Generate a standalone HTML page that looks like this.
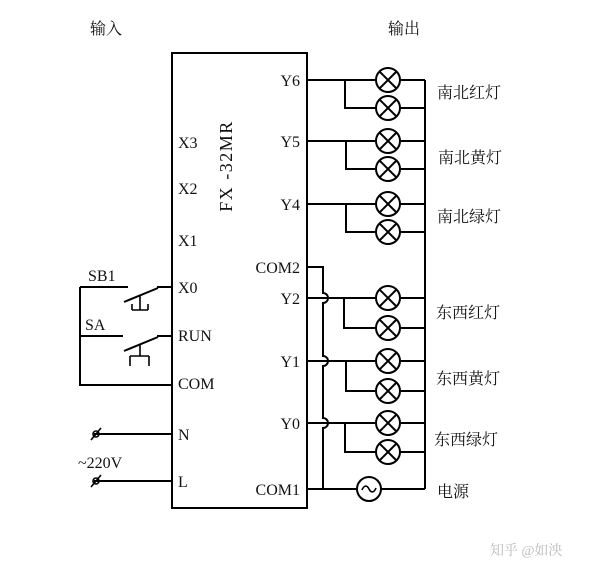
<!DOCTYPE html>
<html><head><meta charset="utf-8"><style>
body{margin:0;background:#fff}
svg text{font-family:"Liberation Serif","Noto Serif CJK SC",serif;fill:#111}
.c{font-family:"Liberation Sans","Noto Sans CJK SC",sans-serif}
</style></head><body>
<svg width="600" height="580" viewBox="0 0 600 580" xmlns="http://www.w3.org/2000/svg">
<defs>
<g id="lamp"><circle r="12" fill="#fff" stroke="#000" stroke-width="2"/><path d="M-8.5,-8.5L8.5,8.5M-8.5,8.5L8.5,-8.5" stroke="#000" stroke-width="2"/></g>
</defs>
<g stroke="#000" stroke-width="2" fill="none">
<rect x="172" y="53" width="135" height="455"/>
<line x1="425" y1="80" x2="425" y2="489"/>
<path d="M307,80H425M345,80V108H425"/>
<path d="M307,141H425M346,141V169H425"/>
<path d="M307,204H425M346,204V232H425"/>
<path d="M307,298H425M344,298V328H425"/>
<path d="M307,361H425M346,361V391H425"/>
<path d="M307,423H425M345,423V452H425"/>
<path d="M307,489H425"/>
<path d="M307,267H323V293A5,5 0 0 1 323,303V356A5,5 0 0 1 323,366V418A5,5 0 0 1 323,428V489"/>
<path d="M80,287H128M157,287H172M80,287V385H172"/>
<path d="M124,302L158,288"/>
<path d="M140,296V310M132,310H148M132,304V310M148,304V310" stroke-width="1.6"/>
<path d="M80,336H123M157,336H172"/>
<path d="M124,351L158,337"/>
<path d="M140,344V356M130,356H149M130,356V366M149,356V366" stroke-width="1.6"/>
<path d="M94,434H172M94,481H172"/>
</g>
<g stroke="#000" stroke-width="1.6" fill="none">
<circle cx="96" cy="434" r="3"/><line x1="91" y1="440" x2="101" y2="428"/>
<circle cx="96" cy="481" r="3"/><line x1="91" y1="487" x2="101" y2="475"/>
</g>
<use href="#lamp" x="388" y="80"/><use href="#lamp" x="388" y="108"/>
<use href="#lamp" x="388" y="141"/><use href="#lamp" x="388" y="169"/>
<use href="#lamp" x="388" y="204"/><use href="#lamp" x="388" y="232"/>
<use href="#lamp" x="388" y="298"/><use href="#lamp" x="388" y="328"/>
<use href="#lamp" x="388" y="361"/><use href="#lamp" x="388" y="391"/>
<use href="#lamp" x="388" y="423"/><use href="#lamp" x="388" y="452"/>
<circle cx="369" cy="489" r="12" fill="#fff" stroke="#000" stroke-width="2"/>
<path d="M362,490c2,-5 5,-5 7,-1s5,4 7,-1" stroke="#000" stroke-width="1.6" fill="none"/>
<g font-size="16">
<text x="178" y="148">X3</text><text x="178" y="194">X2</text><text x="178" y="246">X1</text>
<text x="178" y="293">X0</text><text x="178" y="341">RUN</text><text x="178" y="389">COM</text>
<text x="178" y="440">N</text><text x="178" y="487">L</text>
<text x="300" y="86" text-anchor="end">Y6</text><text x="300" y="147" text-anchor="end">Y5</text>
<text x="300" y="210" text-anchor="end">Y4</text><text x="300" y="273" text-anchor="end">COM2</text>
<text x="300" y="304" text-anchor="end">Y2</text><text x="300" y="367" text-anchor="end">Y1</text>
<text x="300" y="429" text-anchor="end">Y0</text><text x="300" y="495" text-anchor="end">COM1</text>
<text x="88" y="281">SB1</text><text x="85" y="330">SA</text><text x="78" y="468">~220V</text>
<text transform="translate(232,166) rotate(-90)" text-anchor="middle" font-size="18" letter-spacing="1.5">FX -32MR</text>
</g>
<g class="c" font-size="16">
<text x="90" y="34">输入</text><text x="388" y="34">输出</text>
<text x="437" y="98">南北红灯</text><text x="438" y="163">南北黄灯</text><text x="437" y="222">南北绿灯</text>
<text x="436" y="318">东西红灯</text><text x="436" y="384">东西黄灯</text><text x="434" y="445">东西绿灯</text>
<text x="437" y="497">电源</text>
<text x="490" y="555" font-size="14" style="fill:#bbb">知乎 @如泱</text>
</g>
</svg>
</body></html>
